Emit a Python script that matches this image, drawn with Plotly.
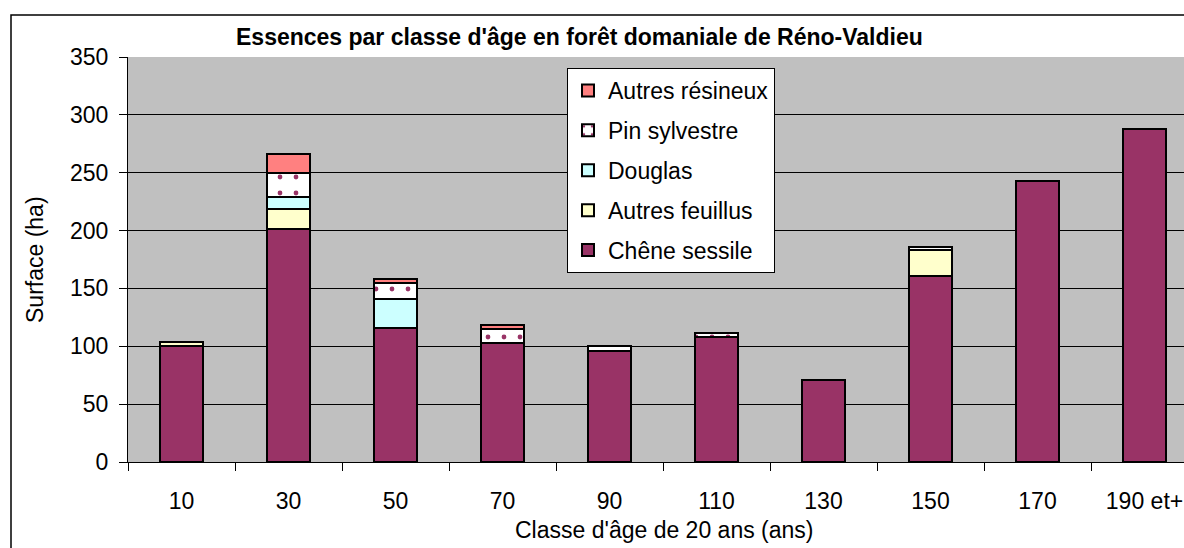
import plotly.graph_objects as go

categories = ["10", "30", "50", "70", "90", "110", "130", "150", "170", "190 et+"]
chene_sessile = [100, 201, 116, 103, 96, 108, 71, 161, 243, 288]
autres_feuillus = [3.5, 18, 0, 0, 0, 0, 0, 22, 0, 0]
douglas = [0, 10, 25, 0, 0, 0, 0, 0, 0, 0]
pin_sylvestre = [0, 21, 14, 12, 4, 3.5, 0, 3, 0, 0]
autres_resineux = [0, 16, 3, 3, 0, 0, 0, 0, 0, 0]

series = [
    ("Chêne sessile", chene_sessile, "#993366", None),
    ("Autres feuillus", autres_feuillus, "#FFFFCC", None),
    ("Douglas", douglas, "#CCFFFF", None),
    ("Pin sylvestre", pin_sylvestre, "#FFFFFF", "."),
    ("Autres résineux", autres_resineux, "#FF8080", None),
]

FONT = "Liberation Sans, Arial, sans-serif"
L, T, B, W, H = 128, 57, 86, 1184, 548
PW = W - L
PH = H - T - B


def px(x):
    return (x - L) / PW


def py(y):
    return (H - B - y) / PH


fig = go.Figure()
for i, (name, vals, color, pat) in enumerate(series):
    marker = dict(color=color, line=dict(color="black", width=2))
    if pat:
        marker["pattern"] = dict(shape=".", fgcolor="#993366", bgcolor="#FFFFFF",
                                 size=16, solidity=0.07, fillmode="replace")
    fig.add_trace(go.Bar(x=categories, y=vals, name=name, marker=marker,
                         legendgroup=f"g{len(series) - i}", legendrank=len(series) - i,
                         width=0.41))

fig.update_layout(
    width=W, height=H,
    barmode="stack",
    paper_bgcolor="white",
    plot_bgcolor="#C0C0C0",
    margin=dict(l=L, r=0, t=T, b=B),
    font=dict(family=FONT, size=23, color="black"),
    showlegend=True,
    legend=dict(
        x=px(567), y=py(68), xanchor="left", yanchor="top",
        bgcolor="white", bordercolor="black", borderwidth=1,
        traceorder="grouped", tracegroupgap=7,
        font=dict(size=23, family=FONT), itemwidth=30,
    ),
    xaxis=dict(
        type="category",
        range=[-0.5, 9.369],
        showgrid=False,
        showline=True, linecolor="black", linewidth=1,
        ticks="outside", tickson="boundaries", ticklen=8, tickcolor="black",
        ticklabelstandoff=18,
        tickfont=dict(size=23),
    ),
    yaxis=dict(
        range=[0, 350],
        dtick=50,
        showgrid=True, gridcolor="black", gridwidth=1,
        showline=True, linecolor="black", linewidth=1,
        ticks="outside", ticklen=8, tickcolor="black",
        ticklabelstandoff=6,
        tickfont=dict(size=23),
        zeroline=False,
    ),
    shapes=[
        dict(type="rect", xref="paper", yref="paper",
             x0=px(11), x1=1.05, y0=-0.5, y1=py(15),
             line=dict(color="black", width=1.5), fillcolor="rgba(0,0,0,0)", layer="below"),
    ],
    annotations=[
        dict(text="<b>Essences par classe d'âge en forêt domaniale de Réno-Valdieu</b>",
             xref="paper", yref="paper", x=px(579), y=py(37),
             xanchor="center", yanchor="middle", showarrow=False,
             font=dict(size=23, family=FONT)),
        dict(text="Classe d'âge de 20 ans (ans)",
             xref="paper", yref="paper", x=px(664), y=py(530),
             xanchor="center", yanchor="middle", showarrow=False,
             font=dict(size=23)),
        dict(text="Surface (ha)", textangle=-90,
             xref="paper", yref="paper", x=px(35), y=py(260),
             xanchor="center", yanchor="middle", showarrow=False,
             font=dict(size=23)),
    ],
)

fig.write_html("out.html", config={"displayModeBar": False},
               post_script="document.body.style.margin='0';")
